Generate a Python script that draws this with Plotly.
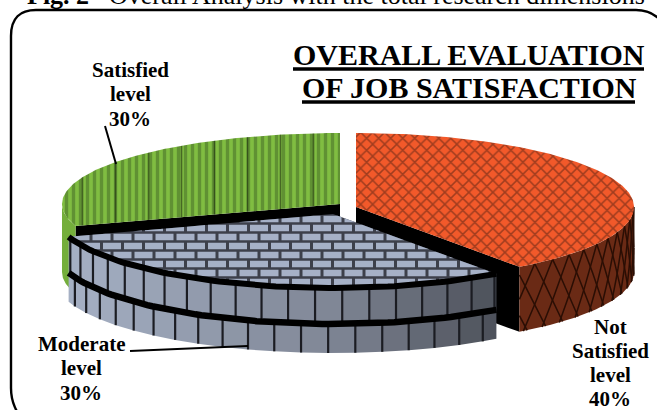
import numpy as np
import plotly.graph_objects as go

# Survey result: share of respondents per satisfaction level
categories = ["Not Satisfied level", "Moderate level", "Satisfied level"]
shares = [40, 30, 30]
title_lines = ["OVERALL EVALUATION", "OF JOB SATISFACTION"]
caption_bold = "Fig. 2"
caption_rest = "Overall Analysis with the total research dimensions"

SERIF = "Liberation Serif"
A, B, DEPTH = 278.0, 74.0, 65.0          # ellipse radii and wall height
# exploded apex and vertical radius of each slice
CENTERS = {0: (356.0, 207.0, 74.0), 1: (333.0, 214.0, 74.0), 2: (340.0, 204.0, 71.0)}


def rim(theta, center, z=0.0):
    """Points on the projected rim; theta in degrees clockwise from 12 o'clock."""
    t = np.radians(np.asarray(theta, dtype=float))
    return center[0] + A * np.sin(t), center[1] - center[2] * np.cos(t) + z


def polygon(x, y, color, pattern=None):
    kw = {"fillpattern": pattern} if pattern else {}
    return go.Scatter(x=list(x), y=list(y), mode="lines", fill="toself", fillcolor=color,
                      line=dict(width=0, color=color), hoverinfo="skip", **kw)


def polyline(x, y, color, width):
    return go.Scatter(x=list(x), y=list(y), mode="lines", line=dict(color=color, width=width),
                      hoverinfo="skip")


def clip_convex(subject, clipper):
    """Sutherland-Hodgman clip of a polygon to a clockwise-on-screen convex polygon."""
    out = subject
    for i in range(len(clipper)):
        a, b = clipper[i], clipper[(i + 1) % len(clipper)]
        inside = lambda p: (b[0] - a[0]) * (p[1] - a[1]) - (b[1] - a[1]) * (p[0] - a[0]) >= 0
        prev_list, out = out, []
        for j in range(len(prev_list)):
            p, q = prev_list[j], prev_list[(j + 1) % len(prev_list)]
            pin, qin = inside(p), inside(q)
            if pin:
                out.append(p)
            if pin != qin:
                d1 = (b[0] - a[0]) * (p[1] - a[1]) - (b[1] - a[1]) * (p[0] - a[0])
                d2 = (b[0] - a[0]) * (q[1] - a[1]) - (b[1] - a[1]) * (q[0] - a[0])
                s = d1 / (d1 - d2)
                out.append((p[0] + s * (q[0] - p[0]), p[1] + s * (q[1] - p[1])))
        if not out:
            return []
    return out


def wall_color(x):
    stops_x = [70, 333, 497]
    stops = np.array([[165, 176, 196], [127, 134, 149], [76, 80, 89]])
    return "rgb({:.0f},{:.0f},{:.0f})".format(*[np.interp(x, stops_x, stops[:, k]) for k in range(3)])


# Slice angles follow directly from the shares
edges = np.concatenate([[0], np.cumsum(shares)]) / np.sum(shares) * 360.0
span = {i: (edges[i], edges[i + 1]) for i in range(len(shares))}
traces = []

# Black cut faces of the outer two slices
for i, angle in ((2, span[2][0]), (0, span[0][1])):
    c = CENTERS[i]
    ex, ey = rim(angle, c)
    traces.append(polygon([c[0], ex, ex, c[0]], [c[1], ey, ey + DEPTH, c[1] + DEPTH], "#000000"))

# Satisfied slice: outer wall and striped top
c = CENTERS[2]
th = np.linspace(span[2][0], 270 + 1e-6, 30)
wx, wy = rim(th, c)
wx2, wy2 = rim(th[::-1], c, DEPTH + 3)
traces.append(polygon(np.r_[wx, wx2], np.r_[wy, wy2], "#74ae3b"))
th = np.linspace(span[2][0], span[2][1], 120)
tx, ty = rim(th, c)
traces.append(polygon(np.r_[c[0], tx], np.r_[c[1], ty], "#80bd41",
                      dict(shape="|", size=7, solidity=0.48, fgcolor="#3f6526", bgcolor="#80bd41")))
traces.append(polygon(np.r_[c[0], tx], np.r_[c[1], ty], "rgba(0,0,0,0)",
                      dict(shape="|", size=33, solidity=0.05, fgcolor="#0c1406", bgcolor="rgba(0,0,0,0)")))

# Not Satisfied slice: brown wall with stretched lattice, orange hatched top
c = CENTERS[0]
th = np.linspace(90, span[0][1], 60)
wx, wy = rim(th, c)
wx2, wy2 = rim(th[::-1], c, DEPTH)
traces.append(polygon(np.r_[wx, wx2], np.r_[wy, wy2], "#6a2a15"))
lat_x, lat_y = [], []
step = 5.0
for start in np.arange(90 - 3 * step, span[0][1] + 2 * step, step):
    for sign in (1, -1):
        t0, t1 = start, start + sign * 1.6 * step
        lo = max(min(t0, t1), 90)
        hi = min(max(t0, t1), span[0][1])
        if lo >= hi:
            continue
        ts = np.linspace(lo, hi, 8)
        zs = DEPTH * (ts - t0) / (t1 - t0)
        x, y = rim(ts, c)
        lat_x += list(x) + [None]
        lat_y += list(y + zs) + [None]
traces.append(polyline(lat_x, lat_y, "#2a0e04", 1.5))
th = np.linspace(span[0][0], span[0][1], 160)
tx, ty = rim(th, c)
traces.append(polygon(np.r_[c[0], tx], np.r_[c[1], ty], "#f2592a",
                      dict(shape="x", size=8.5, solidity=0.32, fgcolor="#4f2012", bgcolor="#f2592a")))

# Moderate slice: two tiers of wall blocks, then a brick-patterned top
c = CENTERS[1]
t0, t1 = span[1]
tiers = ((0.0, 36.0, 183.7), (36.0, DEPTH, 181.0))
for z0, z1, anchor in tiers:
    bounds = np.r_[t0, anchor + 5.6 * np.arange(np.ceil((t0 - anchor) / 5.6), np.floor((t1 - anchor) / 5.6) + 1), t1]
    lines_x, lines_y = [], []
    for a0, a1 in zip(bounds[:-1], bounds[1:]):
        ts = np.linspace(a0, a1, 6)
        x0, y0 = rim(ts, c, z0)
        x1, y1 = rim(ts[::-1], c, z1)
        traces.append(polygon(np.r_[x0, x1], np.r_[y0, y1], wall_color(x0.mean())))
    for a in bounds[1:-1]:
        x0, y0 = rim(a, c, z0)
        x1, y1 = rim(a, c, z1)
        lines_x += [x0, x1, None]
        lines_y += [y0, y1, None]
    traces.append(polyline(lines_x, lines_y, "#1b1c22", 2.2))

th = np.linspace(t0, t1, 80)
tx, ty = rim(th, c)
traces.append(polygon(np.r_[c[0], tx], np.r_[c[1], ty], "#3d404b"))
wedge = [(c[0], c[1])] + [(float(px), float(py)) for px, py in zip(tx, ty)]
xa = np.array([p[0] for p in wedge])
ya = np.array([p[1] for p in wedge])
area = np.sum(xa * np.roll(ya, -1) - np.roll(xa, -1) * ya)
if area < 0:
    wedge = wedge[::-1]
bx, by = [], []
for row, yc in enumerate(np.arange(228 - 9 * 2, 300, 9.0)):
    offset = 10.5 if row % 2 else 0.0
    for left in np.arange(61 + offset, 510, 21.0):
        cell = [(left, yc - 3.3), (left + 18, yc - 3.3), (left + 18, yc + 3.3), (left, yc + 3.3)]
        clipped = clip_convex(cell, wedge)
        if len(clipped) >= 3:
            bx += [p[0] for p in clipped] + [clipped[0][0], None]
            by += [p[1] for p in clipped] + [clipped[0][1], None]
traces.append(polygon(bx, by, "#a6b1c7"))
ax_, ay_ = rim(th, c)
traces.append(polyline(ax_, ay_, "#000000", 6))
ax_, ay_ = rim(th, c, 36.0)
traces.append(polyline(ax_, ay_, "#000000", 6.5))

fig = go.Figure(traces)

# Frame, leader lines and title underlines
frame = "M 11 36 C 11 18 20 10 36 10 L 636 10 C 650 10 660 16 668 30 L 668 425 L 26 425 C 16 412 11 402 11 388 Z"
shapes = [
    dict(type="path", path=frame, line=dict(color="#000000", width=2.4), layer="above"),
    dict(type="line", x0=105, y0=126, x1=116, y1=164, line=dict(color="#000000", width=2)),
    dict(type="line", x0=130, y0=351, x1=248, y1=346, line=dict(color="#000000", width=2)),
    dict(type="line", x0=293, y0=69, x1=644, y1=69, line=dict(color="#000000", width=3.4)),
    dict(type="line", x0=302, y0=102, x1=635, y1=102, line=dict(color="#000000", width=3.4)),
]

annotations = []


def text(x, y, s, size, anchor="center", bold=True, yshift=0):
    annotations.append(dict(x=x, y=y, xref="x", yref="y", text=f"<b>{s}</b>" if bold else s,
                            showarrow=False, xanchor=anchor, yanchor="middle", yshift=yshift,
                            font=dict(family=SERIF, size=size, color="#000000")))


label_spots = {0: (610, 326.5), 1: (81, 344), 2: (130, 70)}
for i, (cat, share) in enumerate(zip(categories, shares)):
    x, y = label_spots[i]
    for n, piece in enumerate(cat.split(" ") + [f"{share}%"]):
        text(x, y + n * 24.3, piece, 21)

text(469, 54, title_lines[0], 30)
text(469, 87, title_lines[1], 30)
text(25, 0, caption_bold, 26, "left", yshift=5)
text(107, 0, caption_rest, 26, "left", bold=False, yshift=5)

fig.update_layout(
    width=657, height=410, margin=dict(l=0, r=0, t=0, b=0), showlegend=False,
    paper_bgcolor="#ffffff", plot_bgcolor="#ffffff", shapes=shapes, annotations=annotations,
    xaxis=dict(range=[0, 657], visible=False, fixedrange=True),
    yaxis=dict(range=[410, 0], visible=False, fixedrange=True),
)
fig.write_html("out.html", config=dict(displayModeBar=False))
